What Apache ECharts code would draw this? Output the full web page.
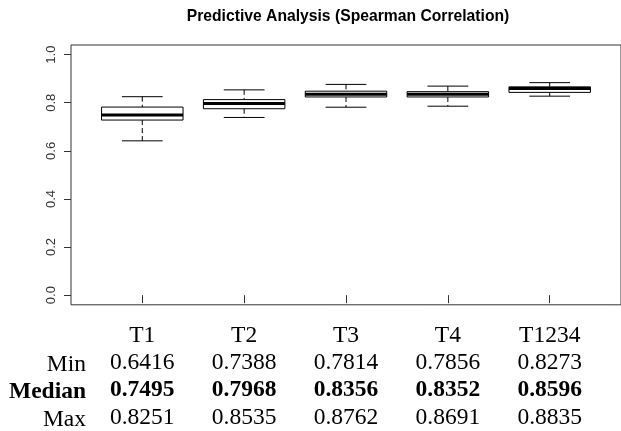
<!DOCTYPE html>
<html>
<head>
<meta charset="utf-8">
<script src="https://cdn.jsdelivr.net/npm/echarts@6/dist/echarts.min.js"></script>
<style>html,body{margin:0;padding:0;background:#fff}#c{width:621px;height:431px}</style>
</head>
<body>
<div id="c"></div>
<script>
const titleText = 'Predictive Analysis (Spearman Correlation)';
const categories = ['T1', 'T2', 'T3', 'T4', 'T1234'];
const minVals = [0.6416, 0.7388, 0.7814, 0.7856, 0.8273];
const q1Vals = [0.728, 0.775, 0.824, 0.824, 0.843];
const medianVals = [0.7495, 0.7968, 0.8356, 0.8352, 0.8596];
const q3Vals = [0.782, 0.813, 0.848, 0.846, 0.866];
const maxVals = [0.8251, 0.8535, 0.8762, 0.8691, 0.8835];
const yTicks = [0, 0.2, 0.4, 0.6, 0.8, 1.0];
const xTicks = [1, 2, 3, 4, 5];
const rowLabels = ['Min', 'Median', 'Max'];

const boxData = categories.map((c, i) => [i + 1, minVals[i], q1Vals[i], medianVals[i], q3Vals[i], maxVals[i]]);

const serif = '"Liberation Serif", "Times New Roman", serif';
const sans = '"Liberation Sans", Arial, sans-serif';
const LH = 27.3;
const FS = 23.5;
const LABEL_MARGIN = 17;

function renderBox(params, api) {
  const x = api.value(0);
  const pMin = api.coord([x, api.value(1)]);
  const pQ1 = api.coord([x, api.value(2)]);
  const pMed = api.coord([x, api.value(3)]);
  const pQ3 = api.coord([x, api.value(4)]);
  const pMax = api.coord([x, api.value(5)]);
  const hw = api.size([0.4, 0])[0];
  const cw = api.size([0.2, 0])[0];
  const cx = pMed[0];
  const thin = { stroke: '#000', lineWidth: 1 };
  const dash = { stroke: '#000', lineWidth: 1, lineDash: [5, 3] };
  return {
    type: 'group',
    children: [
      { type: 'line', shape: { x1: cx, y1: pMax[1], x2: cx, y2: pQ3[1] }, style: dash },
      { type: 'line', shape: { x1: cx, y1: pQ1[1], x2: cx, y2: pMin[1] }, style: dash },
      { type: 'line', shape: { x1: cx - cw, y1: pMax[1], x2: cx + cw, y2: pMax[1] }, style: thin },
      { type: 'line', shape: { x1: cx - cw, y1: pMin[1], x2: cx + cw, y2: pMin[1] }, style: thin },
      { type: 'rect', shape: { x: cx - hw, y: pQ3[1], width: 2 * hw, height: pQ1[1] - pQ3[1] }, style: { fill: '#fff', stroke: '#000', lineWidth: 1 } },
      { type: 'line', shape: { x1: cx - hw, y1: pMed[1], x2: cx + hw, y2: pMed[1] }, style: { stroke: '#000', lineWidth: 3 } }
    ]
  };
}

const chart = echarts.init(document.getElementById('c'), null, { renderer: 'canvas' });
chart.setOption({
  animation: false,
  backgroundColor: '#fff',
  title: {
    text: titleText,
    left: 343,
    textAlign: 'center',
    top: 4,
    textStyle: { fontFamily: sans, fontWeight: 'bold', fontSize: 15.7, color: '#000' }
  },
  grid: {
    left: 71, right: -4, top: 45, bottom: 124,
    show: true, borderColor: '#333', borderWidth: 1, backgroundColor: 'transparent'
  },
  xAxis: {
    type: 'value',
    min: 0.3, max: 5.7,
    splitLine: { show: false },
    axisLine: { show: false },
    axisTick: { show: true, customValues: xTicks, length: 8, lineStyle: { color: '#333' } },
    axisLabel: {
      customValues: xTicks,
      margin: LABEL_MARGIN,
      fontFamily: serif, fontSize: FS, color: '#000', lineHeight: LH,
      formatter: function (v) {
        const i = Math.round(v) - 1;
        return [categories[i], minVals[i].toFixed(4), '{b|' + medianVals[i].toFixed(4) + '}', maxVals[i].toFixed(4)].join('\n');
      },
      rich: { b: { fontFamily: serif, fontSize: FS, fontWeight: 'bold', color: '#000', lineHeight: LH } }
    }
  },
  yAxis: {
    type: 'value',
    min: -0.04, max: 1.04,
    splitLine: { show: false },
    axisLine: { show: false },
    axisTick: { show: true, customValues: yTicks, length: 7, lineStyle: { color: '#333' } },
    axisLabel: {
      customValues: yTicks,
      rotate: 90,
      margin: 13,
      fontFamily: sans, fontSize: 13, color: '#333',
      formatter: v => v.toFixed(1)
    }
  },
  graphic: [{
    type: 'text',
    x: 86,
    y: 307 + LABEL_MARGIN + LH,
    style: {
      text: rowLabels.map(r => r === 'Median' ? '{b|' + r + '}' : r).join('\n'),
      textAlign: 'right',
      textVerticalAlign: 'top',
      fontFamily: serif, fontSize: FS,
      lineHeight: LH,
      fill: '#000',
      rich: { b: { fontFamily: serif, fontSize: FS, fontWeight: 'bold', lineHeight: LH, fill: '#000' } }
    }
  }],
  series: [{
    type: 'custom',
    renderItem: renderBox,
    encode: { x: 0, y: [1, 2, 3, 4, 5] },
    data: boxData,
    clip: false
  }]
});
</script>
</body>
</html>
